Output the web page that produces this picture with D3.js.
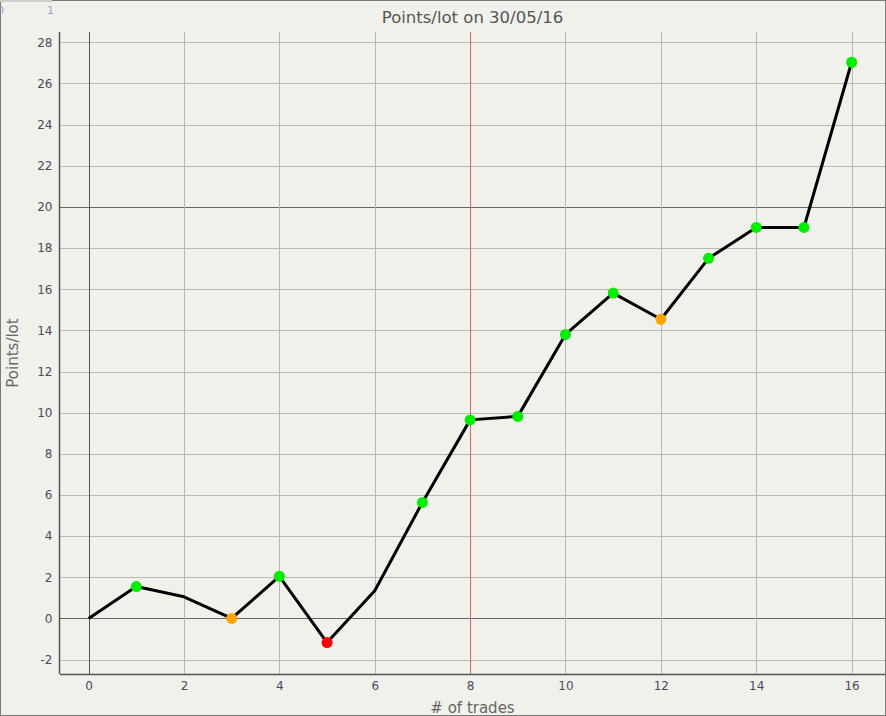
<!DOCTYPE html>
<html lang="en">
<head>
<meta charset="utf-8" />
<title>Points/lot on 30/05/16</title>
<style>
html, body {
	margin: 0;
	padding: 0;
	background: #f1f1ec;
}
svg {
	display: block;
	font-family: "DejaVu Sans", sans-serif;
}
</style>
</head>
<body>
<svg width="886" height="716"></svg>

<script src="https://cdn.jsdelivr.net/npm/d3@7"></script>
<script>
// data
var trades = [0, 1, 2, 3, 4, 5, 6, 7, 8, 9, 10, 11, 12, 13, 14, 15, 16];
var points = [0, 1.55, 1.05, 0, 2.05, -1.17, 1.35, 5.64, 9.65, 9.82, 13.8, 15.81, 14.54, 17.5, 19.0, 19.0, 27.03];
// marker per trade: "win", "even", "loss" or "" (no marker)
var outcome = ["", "win", "", "even", "win", "loss", "", "win", "win", "win", "win", "win", "even", "win", "win", "win", "win"];
var xTicks = [0, 2, 4, 6, 8, 10, 12, 14, 16];
var yTicks = [-2, 0, 2, 4, 6, 8, 10, 12, 14, 16, 18, 20, 22, 24, 26, 28];

var markerColor = { win: "#00ee00", even: "#ffa500", loss: "#ff0000" };

var svg = d3.select("svg");
var W = 886, H = 716;
// plot box (don't call these top/left: window.top is read-only)
var pL = 60, pR = 885, pT = 32, pB = 674;

var x = d3.scaleLinear().domain([-0.6, 16.7]).range([pL, pR]);
var y = d3.scaleLinear().domain([-2.7, 28.5]).range([pB, pT]);

// outer frame
svg.append("rect")
	.attr("x", 0.5).attr("y", 0.5)
	.attr("width", W - 1).attr("height", H - 1)
	.attr("fill", "#f1f1ec")
	.attr("stroke", "#7a7a7a");

// little slider at the top left
svg.append("line")
	.attr("x1", 0).attr("x2", 52).attr("y1", 1).attr("y2", 1)
	.attr("stroke", "#cfcfcf").attr("stroke-width", 2);
svg.append("text").attr("x", -3).attr("y", 14).text("0")
	.attr("font-size", 11).attr("fill", "#8fa8c8");
svg.append("text").attr("x", 47).attr("y", 14).text("1")
	.attr("font-size", 11).attr("fill", "#8fa8c8");

// grid
svg.append("g").selectAll("line")
	.data(yTicks)
	.enter().append("line")
	.attr("x1", pL).attr("x2", pR)
	.attr("y1", function(d) { return Math.round(y(d)) + 0.5; })
	.attr("y2", function(d) { return Math.round(y(d)) + 0.5; })
	.attr("stroke", function(d) { return (d === 0 || d === 20) ? "#666" : "#b9b9b4"; });

svg.append("g").selectAll("line")
	.data(xTicks)
	.enter().append("line")
	.attr("y1", pT).attr("y2", pB)
	.attr("x1", function(d) { return Math.round(x(d)) + 0.5; })
	.attr("x2", function(d) { return Math.round(x(d)) + 0.5; })
	.attr("stroke", function(d) {
		if (d === 0) return "#555";
		if (d === 8) return "#d9646e";
		return "#b9b9b4";
	});

// axes (plain hyphen for negatives, like the original)
var xAxis = d3.axisBottom(x).tickValues(xTicks).tickSize(0).tickPadding(7).tickFormat(String);
var yAxis = d3.axisLeft(y).tickValues(yTicks).tickSize(0).tickPadding(7).tickFormat(String);

var gx = svg.append("g").attr("transform", "translate(0," + (pB + 0.5) + ")").call(xAxis);
var gy = svg.append("g").attr("transform", "translate(" + (pL - 0.5) + ",0)").call(yAxis);

[gx, gy].forEach(function(g) {
	g.select(".domain").attr("stroke", "#555").attr("stroke-width", 1.5);
	g.selectAll("text").attr("font-size", 12).attr("fill", "#4a4a5a")
		.attr("font-family", "DejaVu Sans, sans-serif");
});
gx.select(".domain").attr("d", "M" + pL + ",0H" + pR);
gy.select(".domain").attr("d", "M0," + pT + "V" + pB);

// titles
svg.append("text")
	.attr("x", (pL + pR) / 2).attr("y", 23)
	.attr("text-anchor", "middle")
	.attr("font-size", 16.5).attr("fill", "#555")
	.text("Points/lot on 30/05/16");

svg.append("text")
	.attr("x", (pL + pR) / 2).attr("y", 713)
	.attr("text-anchor", "middle")
	.attr("font-size", 15).attr("fill", "#666")
	.text("# of trades");

svg.append("text")
	.attr("transform", "translate(18," + ((pT + pB) / 2) + ") rotate(-90)")
	.attr("text-anchor", "middle")
	.attr("font-size", 15).attr("fill", "#666")
	.text("Points/lot");

// line
var series = trades.map(function(t, i) { return { t: t, v: points[i], o: outcome[i] }; });

var line = d3.line()
	.x(function(d) { return x(d.t); })
	.y(function(d) { return y(d.v); });

svg.append("path")
	.datum(series)
	.attr("d", line)
	.attr("fill", "none")
	.attr("stroke", "#000")
	.attr("stroke-width", 3)
	.attr("stroke-linejoin", "round");

// markers
svg.append("g").selectAll("circle")
	.data(series.filter(function(d) { return d.o !== ""; }))
	.enter().append("circle")
	.attr("cx", function(d) { return x(d.t); })
	.attr("cy", function(d) { return y(d.v); })
	.attr("r", 5.5)
	.attr("fill", function(d) { return markerColor[d.o]; });
</script>
</body>
</html>
